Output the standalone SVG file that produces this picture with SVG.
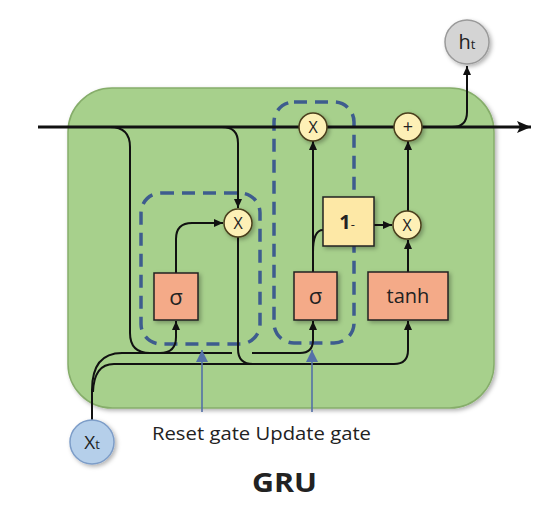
<svg xmlns="http://www.w3.org/2000/svg" width="557" height="514" viewBox="0 0 557 514">
<defs>
<filter id="sh" x="-20%" y="-20%" width="150%" height="150%">
<feDropShadow dx="2" dy="2" stdDeviation="2" flood-color="#000" flood-opacity="0.3"/>
</filter>
<marker id="arr" markerUnits="userSpaceOnUse" markerWidth="9" markerHeight="8" refX="9" refY="4" orient="auto">
<path d="M0,0 L9,4 L0,8 z" fill="#111"/>
</marker>
<marker id="big" markerUnits="userSpaceOnUse" markerWidth="14" markerHeight="12" refX="14" refY="6" orient="auto">
<path d="M0,0 L14,6 L0,12 L3,6 z" fill="#111"/>
</marker>
<marker id="blue" markerUnits="userSpaceOnUse" markerWidth="12" markerHeight="12" refX="12" refY="6" orient="auto">
<path d="M0,0 L12,6 L0,12 z" fill="#5470a8"/>
</marker>
</defs>
<style>
.bg{fill:#a7d08c;stroke:#86ad6b;stroke-width:1.5}
.dash{fill:none;stroke:#3e5c8e;stroke-width:3.5;stroke-dasharray:13 8}
.w{fill:none;stroke:#111;stroke-width:2}
.m{fill:none;stroke:#111;stroke-width:2.8}
.p{fill:none;stroke:#5470a8;stroke-width:1.6}
.op{fill:#fdf0b6;stroke:#4a3f1c;stroke-width:1.5}
.act{fill:#f4aa88;stroke:#222;stroke-width:1.5}
.one{fill:#fde8a6;stroke:#222;stroke-width:1.5}
.t{font-family:"Open Sans","Liberation Sans",sans-serif;fill:#222;text-anchor:middle}
</style>
<rect class="bg" x="68" y="88" width="426" height="320" rx="44" filter="url(#sh)"/>
<g id="gates">
<rect class="dash" x="141" y="193" width="119" height="151" rx="20"/>
<rect class="dash" x="274" y="102" width="80" height="241" rx="20"/>
</g>
<g id="connectors">
<path class="m" d="M38,127 H531" marker-end="url(#big)"/>
<path class="w" d="M452,127 Q467,127 467,112 V66" marker-end="url(#arr)"/>
<path class="w" d="M110,127 Q130,127 130,147 V333 Q130,353 150,353"/>
<path class="w" d="M195,127 H222 Q238,127 238,143 V208" marker-end="url(#arr)"/>
<path class="w" d="M176,273 V239 Q176,223 192,223 H223" marker-end="url(#arr)"/>
<path class="w" d="M238,237 V349 Q238,364 253,364 H394 Q408,364 408,350 V321" marker-end="url(#arr)"/>
<path class="w" d="M92,420 V390 Q92,353 122,353 H232"/>
<path class="w" d="M252,353 H300 Q313,353 313,340 V321" marker-end="url(#arr)"/>
<path class="w" d="M93,392 Q94,364 114,364 H260"/>
<path class="w" d="M160,353 Q176,353 176,337 V321" marker-end="url(#arr)"/>
<path class="w" d="M313,272 V141" marker-end="url(#arr)"/>
<path class="w" d="M313,252 Q313,230 323,230"/>
<path class="w" d="M374,225 H392" marker-end="url(#arr)"/>
<path class="w" d="M408,272 V240" marker-end="url(#arr)"/>
<path class="w" d="M408,211 V141" marker-end="url(#arr)"/>
<path class="p" d="M202,412 V350" marker-end="url(#blue)"/>
<path class="p" d="M312,412 V350" marker-end="url(#blue)"/>
</g>
<g id="reset_sigma"><rect class="act" x="154" y="273" width="44" height="47" filter="url(#sh)"/><text class="t" x="176" y="305" font-size="22">σ</text></g>
<g id="update_sigma"><rect class="act" x="294" y="272" width="43" height="48" filter="url(#sh)"/><text class="t" x="315.5" y="304" font-size="22">σ</text></g>
<g id="tanh"><rect class="act" x="368" y="272" width="80" height="48" filter="url(#sh)"/><text class="t" x="408" y="303" font-size="20">tanh</text></g>
<g id="one_minus"><rect class="one" x="323" y="197" width="51" height="49" filter="url(#sh)"/><text class="t" x="347" y="229" font-size="20" font-weight="bold">1<tspan font-size="13" font-weight="normal">-</tspan></text></g>
<g id="reset_mul"><circle class="op" cx="238" cy="223" r="14" filter="url(#sh)"/><text class="t" x="238" y="228.5" font-size="16">X</text></g>
<g id="top_mul"><circle class="op" cx="313" cy="127" r="14" filter="url(#sh)"/><text class="t" x="313" y="132.5" font-size="16">X</text></g>
<g id="plus"><circle class="op" cx="408" cy="127" r="14" filter="url(#sh)"/><text class="t" x="408" y="133" font-size="18">+</text></g>
<g id="mid_mul"><circle class="op" cx="407" cy="225" r="14" filter="url(#sh)"/><text class="t" x="407" y="230.5" font-size="16">X</text></g>
<g id="ht"><circle cx="467" cy="42" r="22" fill="#d4d4d4" stroke="#9a9a9a" stroke-width="1.5" filter="url(#sh)"/><text class="t" x="467" y="49" font-size="20">h<tspan font-size="13">t</tspan></text></g>
<g id="xt"><circle cx="92" cy="442" r="22" fill="#b5cfea" stroke="#7d9dc8" stroke-width="1.5" filter="url(#sh)"/><text class="t" x="92" y="449" font-size="19">X<tspan font-size="13">t</tspan></text></g>
<text class="t" x="261.5" y="440" font-size="18" textLength="219" lengthAdjust="spacingAndGlyphs">Reset gate Update gate</text>
<text class="t" x="284.5" y="492" font-size="26" font-weight="bold" textLength="65" lengthAdjust="spacingAndGlyphs">GRU</text>
</svg>
